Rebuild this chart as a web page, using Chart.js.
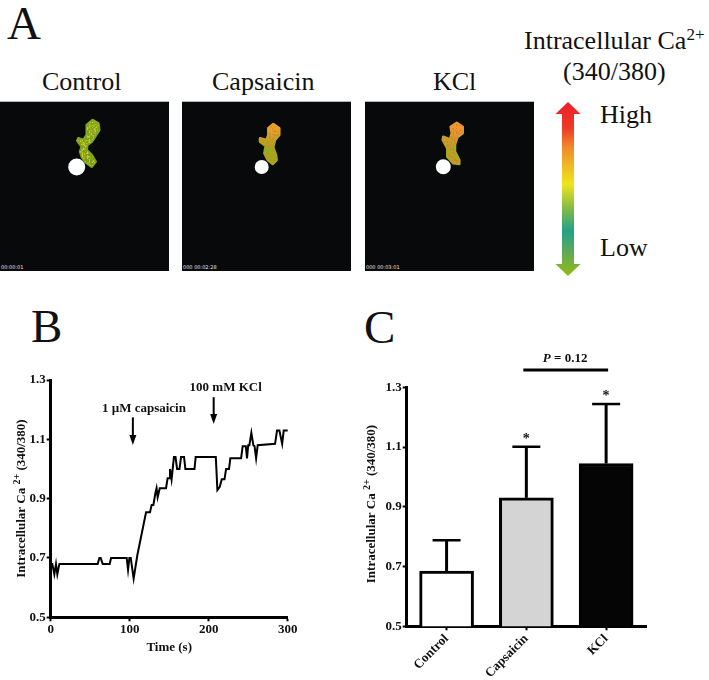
<!DOCTYPE html>
<html>
<head>
<meta charset="utf-8">
<script src="https://cdn.jsdelivr.net/npm/chart.js@4"></script>
<style>
    body { margin: 0; background: #fff; }
    #page { position: relative; width: 709px; height: 680px; overflow: hidden; font-family: "Liberation Serif", serif; color: #111; }
    #page canvas { position: absolute; }
    .txt { position: absolute; white-space: nowrap; line-height: 1; }
    .big { font-size: 47px; }
    .mid { font-size: 26px; }
    .mid sup { font-size: 17px; line-height: 0; vertical-align: baseline; position: relative; top: -9px; }
    .img { position: absolute; top: 101px; width: 169px; height: 170px; background: #07090b; border-top: 1px solid #b5b5b5; box-sizing: border-box; }
    .img span { position: absolute; left: 1px; bottom: 1px; color: #e8e8e8; font: 5px "DejaVu Sans", sans-serif; white-space: nowrap; }
    svg { position: absolute; left: 0; top: 0; }
    .soft { filter: blur(0.5px); }
</style>
</head>
<body>
<div id="page">
    <div class="txt big" style="left:7px;top:0px">A</div>
    <div class="txt big" style="left:31px;top:303px">B</div>
    <div class="txt big" style="left:364px;top:304px">C</div>

    <div class="txt mid" style="left:42px;top:69px">Control</div>
    <div class="txt mid" style="left:212px;top:69px">Capsaicin</div>
    <div class="txt mid" style="left:433px;top:69px">KCl</div>

    <div class="img" style="left:0px"><span>00:00:01</span></div>
    <div class="img" style="left:182px"><span>000 00:02:28</span></div>
    <div class="img" style="left:365px"><span>000 00:03:01</span></div>

    <div class="txt mid" style="left:524px;top:28px">Intracellular Ca<sup>2+</sup></div>
    <div class="txt mid" style="left:563px;top:59px">(340/380)</div>
    <div class="txt mid" style="left:600px;top:102px">High</div>
    <div class="txt mid" style="left:600px;top:235px">Low</div>

    <svg id="art" width="709" height="300"></svg>

    <canvas id="traceChart" width="310" height="300" style="left:0;top:360px"></canvas>
    <canvas id="barChart" width="320" height="340" style="left:350px;top:340px"></canvas>
</div>

<script>
// panel B trace
const traceTime = [0, 2, 4.6, 6.7, 8.4, 11, 59.5, 61.6, 63.3, 65.8, 74.7, 76.4, 96.2, 97.9, 99.6, 101.3, 105, 109.7,
    120.7, 125.7, 127.8, 130, 132.5, 134, 135.4, 138, 146, 148, 150, 151, 153, 156, 158, 160, 163, 165, 168.8, 170.5,
    182, 183.5, 209, 211, 214, 216.5, 220, 222, 225.7, 227.4, 241, 243, 247, 248.5, 250, 251.5, 254, 256.5, 258, 260,
    262, 284, 286.5, 289.5, 293, 295, 300];
const traceRatio = [0.68, 0.68, 0.645, 0.68, 0.645, 0.68, 0.68, 0.70, 0.70, 0.68, 0.68, 0.70, 0.70, 0.66, 0.70, 0.70, 0.631, 0.71,
    0.854, 0.854, 0.879, 0.879, 0.918, 0.935, 0.905, 0.935, 0.935, 0.969, 0.969, 1.0, 0.965, 1.04, 1.04, 1.0, 1.0, 1.04, 1.04, 1.0,
    1.0, 1.04, 1.04, 0.929, 0.94, 0.965, 0.965, 1.0, 1.0, 1.036, 1.036, 1.077, 1.077, 1.036, 1.08, 1.08, 1.122, 1.08, 1.077, 1.036,
    1.08, 1.085, 1.13, 1.13, 1.085, 1.13, 1.13];

// panel C bars
const groupNames = ['Control', 'Capsaicin', 'KCl'];
const groupMeans = [0.685, 0.93, 1.045];
const groupUpper = [0.788, 1.101, 1.244];
const groupFills = ['#ffffff', '#d4d4d4', '#050505'];
const groupStars = ['', '*', '*'];

const serifBold = size => ({ family: '"Liberation Serif", serif', size: size, weight: 'bold' });

function yAxis(width) {
    return {
        min: 0.5, max: 1.3,
        afterFit: s => { s.width = width; },
        border: { color: '#000', width: 3 },
        grid: { drawOnChartArea: false, color: '#000', tickLength: 4, tickWidth: 2 },
        ticks: {
            stepSize: 0.2, color: '#111', padding: 1,
            font: serifBold(13),
            callback: v => v.toFixed(1)
        }
    };
}

// y title with a real superscript, which the scale title can't do
function drawYTitle(chart, centerY) {
    const c = chart.ctx;
    const main = 'bold 13px "Liberation Serif", serif', small = 'bold 10px "Liberation Serif", serif';
    const parts = [['Intracellular Ca ', main, 0], ['2+', small, -5], [' (340/380)', main, 0]];
    const widths = parts.map(p => { c.font = p[1]; return c.measureText(p[0]).width; });
    let pos = -widths.reduce((a, b) => a + b, 0) / 2;
    c.save();
    c.translate(25, centerY);
    c.rotate(-Math.PI / 2);
    c.fillStyle = '#111';
    c.textAlign = 'left';
    parts.forEach((p, i) => {
        c.font = p[1];
        c.fillText(p[0], pos, p[2]);
        pos += widths[i];
    });
    c.restore();
}

// little arrows and their labels in panel B
function drawArrow(chart, t, from, to) {
    const c = chart.ctx, x = chart.scales.x.getPixelForValue(t);
    const y0 = chart.scales.y.getPixelForValue(from), y1 = chart.scales.y.getPixelForValue(to);
    c.strokeStyle = c.fillStyle = '#000';
    c.lineWidth = 2;
    c.beginPath(); c.moveTo(x, y0); c.lineTo(x, y1 - 6); c.stroke();
    c.beginPath(); c.moveTo(x - 3.5, y1 - 10); c.lineTo(x + 3.5, y1 - 10); c.lineTo(x, y1); c.closePath(); c.fill();
}

const tracePlugin = {
    id: 'traceNotes',
    afterDraw(chart) {
        const c = chart.ctx, sx = chart.scales.x, sy = chart.scales.y;
        c.save();
        drawArrow(chart, 104, 1.174, 1.081);
        drawArrow(chart, 206.3, 1.242, 1.152);
        c.font = 'bold 13px "Liberation Serif", serif';
        c.fillStyle = '#111';
        c.textAlign = 'center';
        c.fillText('1 µM capsaicin', sx.getPixelForValue(118), sy.getPixelForValue(1.192));
        c.fillText('100 mM KCl', sx.getPixelForValue(221.5), sy.getPixelForValue(1.263));
        c.restore();
        drawYTitle(chart, 138.5);
    }
};

// error bars, stars and the P bracket in panel C
const barPlugin = {
    id: 'barNotes',
    afterDatasetsDraw(chart) {
        const c = chart.ctx, sx = chart.scales.x, sy = chart.scales.y;
        c.save();
        c.strokeStyle = '#000';
        groupNames.forEach((name, i) => {
            const x = sx.getPixelForValue(i), top = sy.getPixelForValue(groupUpper[i]);
            c.lineWidth = 3;
            c.beginPath(); c.moveTo(x, sy.getPixelForValue(groupMeans[i])); c.lineTo(x, top); c.stroke();
            c.lineWidth = 2.5;
            c.beginPath(); c.moveTo(x - 14, top); c.lineTo(x + 14, top); c.stroke();
            c.fillStyle = '#111';
            c.font = 'bold 14px "Liberation Serif", serif';
            c.textAlign = 'center';
            c.fillText(groupStars[i], x, top - 4);
        });
        const x1 = sx.getPixelForValue(1) - 3, x2 = sx.getPixelForValue(2) + 2, yb = sy.getPixelForValue(1.358);
        c.lineWidth = 3;
        c.beginPath(); c.moveTo(x1, yb); c.lineTo(x2, yb); c.stroke();
        c.font = 'italic bold 13px "Liberation Serif", serif';
        c.textAlign = 'left';
        const mid = (x1 + x2) / 2 - 23;
        c.fillText('P', mid, yb - 8);
        c.font = 'bold 13px "Liberation Serif", serif';
        c.fillText(' = 0.12', mid + 8, yb - 8);
        c.restore();
        drawYTitle(chart, 164);
    }
};

new Chart(document.getElementById('traceChart'), {
    type: 'line',
    data: {
        datasets: [{
            data: traceTime.map((t, i) => ({ x: t, y: traceRatio[i] })),
            borderColor: '#000',
            borderWidth: 2,
            pointRadius: 0,
            tension: 0,
            clip: false
        }]
    },
    options: {
        responsive: false,
        animation: false,
        devicePixelRatio: 1,
        layout: { autoPadding: false, padding: { left: 0, top: 20, right: 22.3, bottom: 3 } },
        plugins: { legend: { display: false }, tooltip: { enabled: false } },
        scales: {
            x: {
                type: 'linear', min: 0, max: 300,
                afterFit: s => { s.height = 39.7; },
                border: { color: '#000', width: 3 },
                grid: { drawOnChartArea: false, color: '#000', tickLength: 4, tickWidth: 2 },
                ticks: { stepSize: 100, color: '#111', padding: 1, maxRotation: 0, font: serifBold(13) },
                title: { display: true, text: 'Time (s)', color: '#111', padding: { top: 0, bottom: 2 }, font: serifBold(13) }
            },
            y: yAxis(50.7)
        }
    },
    plugins: [tracePlugin]
});

new Chart(document.getElementById('barChart'), {
    type: 'bar',
    data: {
        labels: groupNames,
        datasets: [{
            data: groupMeans,
            backgroundColor: groupFills,
            borderColor: '#000',
            borderWidth: 3,
            borderSkipped: false,
            barThickness: 54
        }]
    },
    options: {
        responsive: false,
        animation: false,
        devicePixelRatio: 1,
        layout: { autoPadding: false, padding: { left: 0, top: 47.3, right: 24, bottom: 3.7 } },
        plugins: { legend: { display: false }, tooltip: { enabled: false } },
        scales: {
            x: {
                afterFit: s => { s.height = 50; },
                border: { color: '#000', width: 3 },
                grid: { offset: false, drawOnChartArea: false, color: '#000', tickLength: 4, tickWidth: 2 },
                ticks: { color: '#111', padding: 1, minRotation: 45, maxRotation: 45, font: serifBold(13) }
            },
            y: yAxis(56.7)
        }
    },
    plugins: [barPlugin]
});

// panel A: micrograph cells and the colour scale arrow
const NS = 'http://www.w3.org/2000/svg';
const art = document.getElementById('art');
function svgEl(name, attrs, parent) {
    const e = document.createElementNS(NS, name);
    for (const k in attrs) e.setAttribute(k, attrs[k]);
    (parent || art).appendChild(e);
    return e;
}

const defs = svgEl('defs', {});

// speckle: keeps only the patches where the noise is strong
const speck = svgEl('filter', { id: 'speck', x: 0, y: 0, width: 1, height: 1 }, defs);
svgEl('feTurbulence', { type: 'fractalNoise', baseFrequency: 0.55, numOctaves: 2, seed: 4, result: 'n' }, speck);
svgEl('feColorMatrix', { in: 'n', type: 'matrix', values: '0 0 0 0 0  0 0 0 0 0  0 0 0 0 0  5 0 0 0 -2.4', result: 'a' }, speck);
svgEl('feComposite', { in: 'SourceGraphic', in2: 'a', operator: 'in' }, speck);

const cells = [
    {
        outline: '92.7,120 98.3,123.3 99.3,130 95,136.7 91.7,141.7 87.3,145 86.7,150 91.7,155 95.7,161.7 91.7,166.7 85,161.7 81.7,156.7 80,151.7 81.7,146.7 77.3,140.7 78.3,138.3 83.3,140 86.7,135 86.7,125',
        white: [76.7, 167, 8.5], top: '#7ea51c', bottom: '#7a9f1a', fleck: '#d9cc2a'
    },
    {
        outline: '273.3,124 279.3,128.3 279.3,135 275,140 273.3,147.3 276,155 276.7,160 272.7,164 267.7,160 264.3,153.3 265.7,146 260,141.7 260,138.3 266.7,140 268.3,135 268.3,128.3',
        white: [261.7, 167, 7], top: '#e9a42c', bottom: '#93ad1e', fleck: '#ec7a2c'
    },
    {
        outline: '456.7,122.7 462.7,126.7 462.7,133.3 457.3,137.3 455,145 455,151.7 459.3,160 459.3,164 453.3,163.3 447.3,156.7 447.3,148.3 442.7,140 443.3,136.7 450,139.3 451.7,133.3 450.7,126.7',
        white: [443.3, 166.7, 7.5], top: '#ee9a30', bottom: '#a8ac20', fleck: '#f0703a'
    }
];
cells.forEach((cell, i) => {
    const g = svgEl('linearGradient', { id: 'cell' + i, x1: 0, y1: 0, x2: 0, y2: 1 }, defs);
    svgEl('stop', { offset: 0.1, 'stop-color': cell.top }, g);
    svgEl('stop', { offset: 0.6, 'stop-color': cell.bottom }, g);
    const blob = svgEl('g', { class: 'soft' });
    svgEl('polygon', { points: cell.outline, fill: 'url(#cell' + i + ')', stroke: 'url(#cell' + i + ')', 'stroke-linejoin': 'round', 'stroke-width': 2.5 }, blob);
    svgEl('polygon', { points: cell.outline, fill: cell.fleck, filter: 'url(#speck)' }, blob);
    svgEl('circle', { cx: cell.white[0], cy: cell.white[1], r: cell.white[2], fill: '#fff' }, blob);
});

const grad = svgEl('linearGradient', { id: 'scale', gradientUnits: 'userSpaceOnUse', x1: 0, y1: 102, x2: 0, y2: 276 }, defs);
[[0, '#ea1f26'], [0.15, '#ee3a28'], [0.26, '#f08a2a'], [0.47, '#eee61e'], [0.62, '#7fb84a'], [0.74, '#21a285'], [0.86, '#5fa95a'], [1, '#90bb10']]
    .forEach(s => svgEl('stop', { offset: s[0], 'stop-color': s[1] }, grad));
svgEl('path', {
    d: 'M568 102 L580.5 114 L574 114 L574 264 L580.5 264 L568 276 L555.5 264 L562 264 L562 114 L555.5 114 Z',
    fill: 'url(#scale)'
});
</script>
</body>
</html>
